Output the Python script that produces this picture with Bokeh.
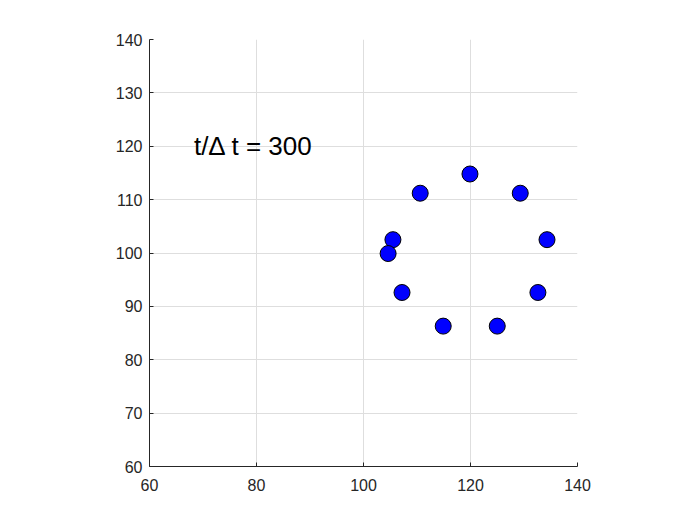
from bokeh.plotting import figure
from bokeh.models import Range1d, FixedTicker, Label
from bokeh.embed import file_html
from bokeh.resources import INLINE

# Particle positions at t/Δt = 300
x_pos = [119.9, 110.6, 129.3, 105.5, 134.3, 104.6, 107.2, 132.6, 114.9, 125.0]
y_pos = [114.8, 111.2, 111.2, 102.5, 102.5, 99.9, 92.6, 92.6, 86.3, 86.3]

x_ticks = [60, 80, 100, 120, 140]
y_ticks = [60, 70, 80, 90, 100, 110, 120, 130, 140]
label_text = "t/Δ t = 300"
label_x, label_y = 68.3, 120.0

p = figure(width=692, height=517, output_backend="svg", toolbar_location=None,
           x_range=Range1d(60, 140), y_range=Range1d(60, 140),
           frame_width=428, frame_height=427,
           min_border_left=149, min_border_top=39, min_border_right=115, min_border_bottom=51)
p.outline_line_color = None
p.background_fill_color = "white"
p.border_fill_color = "white"

for ax, ticks in ((p.xaxis[0], x_ticks), (p.yaxis[0], y_ticks)):
    ax.ticker = FixedTicker(ticks=ticks)
    ax.major_tick_in = 4
    ax.major_tick_out = 0
    ax.minor_tick_line_color = None
    ax.axis_line_color = "#262626"
    ax.major_tick_line_color = "#262626"
    ax.major_label_text_color = "#262626"
    ax.major_label_text_font = "Liberation Sans"
    ax.major_label_text_font_size = "16px"
p.xaxis.major_label_standoff = 12
p.yaxis.major_label_standoff = 7

p.xgrid.ticker = FixedTicker(ticks=x_ticks)
p.ygrid.ticker = FixedTicker(ticks=y_ticks)
p.grid.grid_line_color = "#dedede"
p.grid.grid_line_width = 1

p.scatter(x_pos, y_pos, marker="circle", size=16, fill_color="#0000ff",
          line_color="black", line_width=1)

p.add_layout(Label(x=label_x, y=label_y, text=label_text, text_font="Liberation Sans",
                   text_font_size="26px", text_color="black", text_baseline="middle",
                   text_align="left"))

open("out.html", "w").write(file_html(p, INLINE))
